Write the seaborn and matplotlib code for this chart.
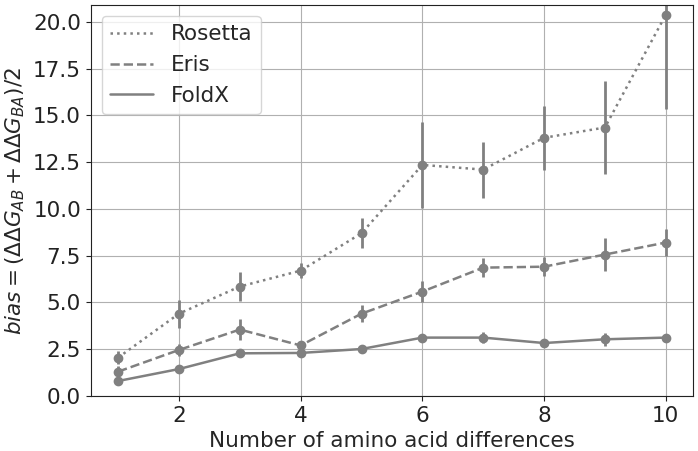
import matplotlib
matplotlib.use("Agg")
import matplotlib.pyplot as plt
import seaborn as sns
import pandas as pd

# Данные
n_diff = [1, 2, 3, 4, 5, 6, 7, 8, 9, 10]

rosetta = [2.05, 4.4, 5.85, 6.7, 8.7, 12.35, 12.1, 13.8, 14.35, 20.37]
rosetta_err = [0.35, 0.75, 0.75, 0.4, 0.8, 2.28, 1.5, 1.72, 2.48, 5.05]

eris = [1.3, 2.46, 3.55, 2.7, 4.4, 5.58, 6.86, 6.91, 7.56, 8.2]
eris_err = [0.3, 0.3, 0.55, 0.2, 0.45, 0.55, 0.5, 0.5, 0.9, 0.7]

foldx = [0.8, 1.44, 2.28, 2.3, 2.51, 3.12, 3.12, 2.83, 3.03, 3.12]
foldx_err = [0.1, 0.1, 0.2, 0.15, 0.1, 0.2, 0.3, 0.1, 0.35, 0.15]

methods = ["Rosetta", "Eris", "FoldX"]
linestyles = [":", "--", "-"]

sns.set_style("ticks", {"axes.grid": True, "grid.color": "#b0b0b0",
                        "axes.edgecolor": "#222222"})
plt.rcParams["font.family"] = ["DejaVu Sans"]
plt.rcParams["font.size"] = 15.5

fig, ax = plt.subplots(figsize=(6.98, 4.51), dpi=100)
fig.subplots_adjust(left=0.130, right=0.993, top=0.989, bottom=0.122)

series = [(rosetta, rosetta_err), (eris, eris_err), (foldx, foldx_err)]
color = "#808080"

for name, ls, (vals, errs) in zip(methods, linestyles, series):
    df = pd.DataFrame({"n": n_diff, "bias": vals})
    sns.lineplot(data=df, x="n", y="bias", ax=ax, color=color,
                 linestyle=ls, linewidth=1.8, label=name)
    ax.errorbar(n_diff, vals, yerr=errs, fmt="o", color=color,
                markersize=6, elinewidth=2, capsize=0)

yticks = [0, 2.5, 5, 7.5, 10, 12.5, 15, 17.5, 20]
ax.set_xlim(0.55, 10.45)
ax.set_ylim(0, 20.9)
ax.set_xticks([2, 4, 6, 8, 10])
ax.set_yticks(yticks)
ax.set_yticklabels([f"{v:.1f}" for v in yticks])
ax.tick_params(labelsize=15.5, colors="#222222")

ax.set_xlabel("Number of amino acid differences", fontsize=15.5)
ax.set_ylabel(r"$bias = (\Delta\Delta G_{AB} + \Delta\Delta G_{BA})/2$", fontsize=15.5)
ax.legend(loc="upper left", fontsize=15.5, frameon=True)

plt.savefig("out.png", dpi=100)
plt.close()
